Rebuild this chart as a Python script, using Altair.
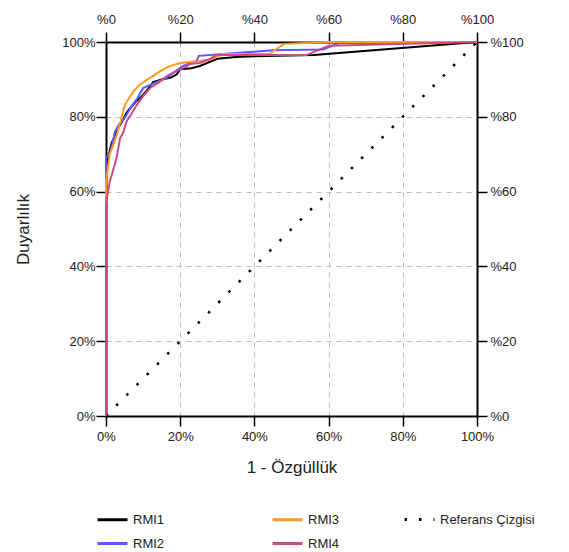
import altair as alt
import pandas as pd

# ROC curve points (1 - specificity, sensitivity)
rmi1_x = [0, 0, 0.008, 0.015, 0.025, 0.033, 0.045, 0.055, 0.065, 0.08, 0.092, 0.11, 0.127, 0.15, 0.175, 0.19, 0.2, 0.23, 0.253, 0.3, 0.35, 0.4, 0.56, 1.0]
rmi1_y = [0, 0.66, 0.70, 0.73, 0.75, 0.77, 0.79, 0.81, 0.823, 0.84, 0.85, 0.87, 0.893, 0.90, 0.905, 0.913, 0.927, 0.93, 0.936, 0.955, 0.96, 0.962, 0.965, 1.0]

rmi2_x = [0, 0, 0.008, 0.011, 0.02, 0.024, 0.035, 0.045, 0.056, 0.07, 0.085, 0.1, 0.13, 0.164, 0.185, 0.208, 0.23, 0.244, 0.25, 0.316, 0.45, 0.585, 0.63, 1.0]
rmi2_y = [0, 0.69, 0.70, 0.703, 0.74, 0.76, 0.78, 0.79, 0.806, 0.83, 0.85, 0.877, 0.89, 0.904, 0.92, 0.936, 0.945, 0.949, 0.963, 0.968, 0.978, 0.98, 0.998, 1.0]

rmi3_x = [0, 0, 0.005, 0.01, 0.018, 0.029, 0.04, 0.051, 0.062, 0.074, 0.09, 0.11, 0.128, 0.146, 0.17, 0.2, 0.244, 0.28, 0.316, 0.44, 0.48, 0.6, 1.0]
rmi3_y = [0, 0.63, 0.66, 0.70, 0.72, 0.752, 0.79, 0.832, 0.85, 0.868, 0.885, 0.899, 0.91, 0.922, 0.935, 0.944, 0.948, 0.953, 0.968, 0.968, 0.995, 1.0, 1.0]

rmi4_x = [0, 0, 0.003, 0.011, 0.02, 0.029, 0.038, 0.046, 0.056, 0.07, 0.083, 0.1, 0.119, 0.14, 0.164, 0.185, 0.208, 0.226, 0.253, 0.28, 0.298, 0.54, 0.6, 1.0]
rmi4_y = [0, 0.56, 0.586, 0.63, 0.66, 0.693, 0.743, 0.757, 0.789, 0.81, 0.832, 0.855, 0.877, 0.89, 0.909, 0.92, 0.93, 0.941, 0.944, 0.955, 0.965, 0.965, 0.99, 1.0]

ref_x = [0, 1.0]
ref_y = [0, 1.0]

series_names = ["RMI1", "RMI2", "RMI3", "RMI4"]
series_colors = ["#000000", "#5a5aff", "#ff9a1f", "#cc4a88"]
ref_name = "Referans Çizgisi"

rows = []
for name, xs, ys in [("RMI1", rmi1_x, rmi1_y), ("RMI2", rmi2_x, rmi2_y),
                     ("RMI3", rmi3_x, rmi3_y), ("RMI4", rmi4_x, rmi4_y)]:
    for i, (a, b) in enumerate(zip(xs, ys)):
        rows.append({"series": name, "fpr": a, "tpr": b, "idx": i})
curves = pd.DataFrame(rows)
ref = pd.DataFrame({"ref": ref_name, "fpr": ref_x, "tpr": ref_y, "idx": [0, 1]})

FONT = "Liberation Sans"
ticks = [0, 0.2, 0.4, 0.6, 0.8, 1.0]
scale = alt.Scale(domain=[0, 1], nice=False, zero=False)

legend_common = dict(title=None, orient="none", legendY=471, rowPadding=10,
                     symbolType="M-1,0H5", symbolSize=100, symbolStrokeWidth=3,
                     labelFont=FONT, labelFontSize=13, labelColor="#222",
                     symbolOffset=0, labelOffset=24)

color = alt.Color("series:N", scale=alt.Scale(domain=series_names, range=series_colors),
                  legend=alt.Legend(legendX=-10, columns=2, columnPadding=101, **legend_common))
dash = alt.StrokeDash("ref:N", scale=alt.Scale(domain=[ref_name], range=[[2.5, 12]]),
                      legend=alt.Legend(legendX=297, symbolStrokeColor="#000", **legend_common))

axis_common = dict(values=ticks, labelFont=FONT, labelFontSize=13, labelColor="#222", labelFlush=False,
                   tickColor="#000", tickSize=10, tickWidth=1.5, domainColor="#000", domainWidth=2,
                   titleFont=FONT, titleFontSize=17, titleFontWeight="normal", titleColor="#222")

lines = alt.Chart(curves).mark_line(strokeWidth=2).encode(
    x=alt.X("fpr:Q", scale=scale,
            axis=alt.Axis(title="1 - Özgüllük", orient="bottom", labelExpr="round(datum.value*100) + '%'",
                          grid=True, gridDash=[5, 5], gridColor="#bbbbbb", titlePadding=16,
                          labelPadding=4, **axis_common)),
    y=alt.Y("tpr:Q", scale=scale,
            axis=alt.Axis(title="Duyarlılık", orient="left", labelExpr="round(datum.value*100) + '%'",
                          grid=True, gridDash=[5, 5], gridColor="#bbbbbb", titlePadding=29,
                          labelPadding=1, **axis_common)),
    color=color,
    order="idx:Q",
)

refline = alt.Chart(ref).mark_line(strokeWidth=2.5, color="#000").encode(
    x=alt.X("fpr:Q", scale=scale,
            axis=alt.Axis(title=None, orient="top", labelExpr="'%' + round(datum.value*100)",
                          grid=False, labelPadding=6, **axis_common)),
    y=alt.Y("tpr:Q", scale=scale,
            axis=alt.Axis(title=None, orient="right", labelExpr="'%' + round(datum.value*100)",
                          grid=False, labelPadding=3, **axis_common)),
    strokeDash=dash,
    order="idx:Q",
)

chart = alt.layer(refline, lines).resolve_axis(x="independent", y="independent").properties(
    width=371, height=374,
    padding={"left": 6, "top": 5, "right": 5, "bottom": 5},
).configure_view(stroke="#000", strokeWidth=2).configure(background="white")

chart.save("out.html", embed_options={"renderer": "svg", "actions": False})
